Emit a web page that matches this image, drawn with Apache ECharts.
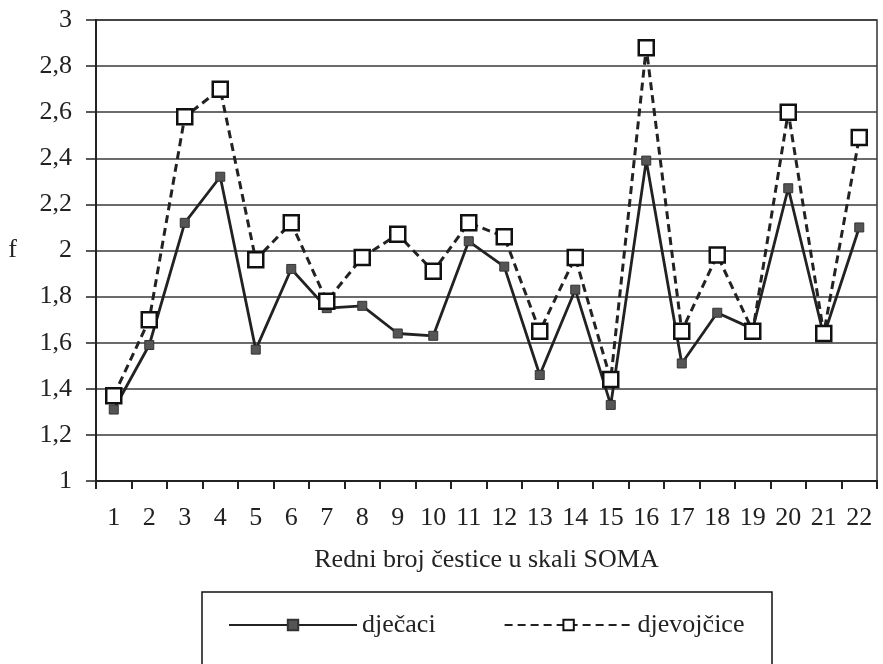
<!DOCTYPE html>
<html>
<head>
<meta charset="utf-8">
<script src="https://cdn.jsdelivr.net/npm/echarts@6/dist/echarts.min.js"></script>
<style>html,body{margin:0;padding:0;background:#fff;}#c{width:883px;height:664px;}</style>
</head>
<body>
<div id="c"></div>
<script>
var categories = ['1','2','3','4','5','6','7','8','9','10','11','12','13','14','15','16','17','18','19','20','21','22'];
var djecaci = [1.31,1.59,2.12,2.32,1.57,1.92,1.75,1.76,1.64,1.63,2.04,1.93,1.46,1.83,1.33,2.39,1.51,1.73,1.66,2.27,1.63,2.10];
var djevojcice = [1.37,1.70,2.58,2.70,1.96,2.12,1.78,1.97,2.07,1.91,2.12,2.06,1.65,1.97,1.44,2.88,1.65,1.98,1.65,2.60,1.64,2.49];
var seriesNames = ['dječaci','djevojčice'];
var yTicks = {min:1, max:3, interval:0.2};
var font = 'Liberation Serif';

var chart = echarts.init(document.getElementById('c'), null, {renderer:'canvas'});
chart.setOption({
  backgroundColor:'#fff',
  animation:false,
  grid:{left:96, right:6, top:20, bottom:183, show:true, borderColor:'#333', borderWidth:1.5, backgroundColor:'transparent'},
  xAxis:{
    type:'category', data:categories, boundaryGap:true,
    name:'Redni broj čestice u skali SOMA', nameLocation:'middle', nameGap:66,
    nameTextStyle:{fontFamily:font, fontSize:26, color:'#222'},
    axisLine:{lineStyle:{color:'#222', width:2}},
    axisTick:{show:true, length:8, inside:false, lineStyle:{color:'#222', width:2}},
    axisLabel:{fontFamily:font, fontSize:26, color:'#222', margin:24},
    splitLine:{show:false}
  },
  yAxis:{
    type:'value', min:yTicks.min, max:yTicks.max, interval:yTicks.interval,
    name:'f', nameLocation:'middle', nameRotate:0, nameGap:79,
    nameTextStyle:{fontFamily:font, fontSize:26, color:'#222'},
    axisLine:{show:true, lineStyle:{color:'#222', width:2}},
    axisTick:{show:true, length:10, lineStyle:{color:'#222', width:1.5}},
    axisLabel:{fontFamily:font, fontSize:26, color:'#222', margin:24,
      formatter:function(v){return String(Math.round(v*10)/10).replace('.',',');}},
    splitLine:{show:true, lineStyle:{color:'#3a3a3a', width:1.5}}
  },
  legend:{
    left:223, top:607, itemWidth:128, itemHeight:13, itemGap:68,
    textStyle:{fontFamily:font, fontSize:26, color:'#222'},
    data:seriesNames
  },
  graphic:[{type:'rect', shape:{x:202, y:592, width:570, height:120}, style:{fill:'none', stroke:'#111', lineWidth:1.5}, silent:true}],
  series:[
    {name:seriesNames[0], type:'line', data:djecaci, symbol:'rect', symbolSize:9,
     lineStyle:{color:'#222', width:2.8, type:'solid'},
     itemStyle:{color:'#555', borderColor:'#333', borderWidth:1}, z:3},
    {name:seriesNames[1], type:'line', data:djevojcice, symbol:'rect', symbolSize:15,
     lineStyle:{color:'#222', width:3, type:[8,5]},
     itemStyle:{color:'#fff', borderColor:'#111', borderWidth:2.5}, z:4}
  ]
});
</script>
</body>
</html>
